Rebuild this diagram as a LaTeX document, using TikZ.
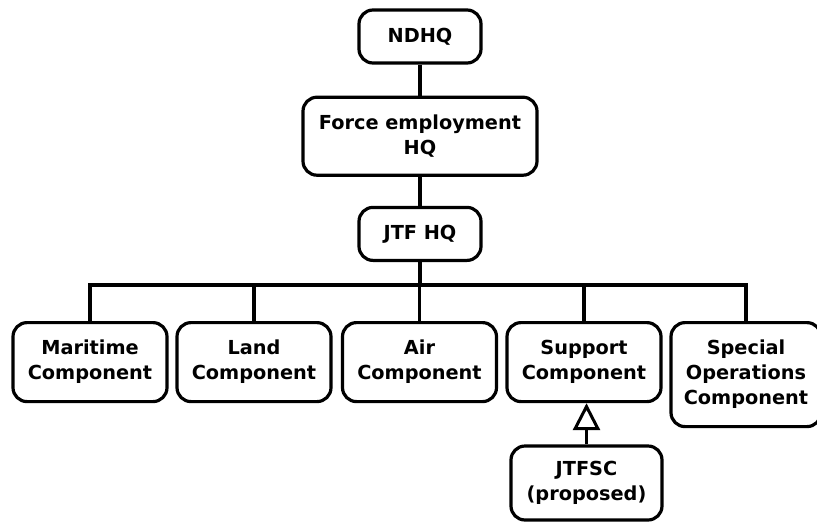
\documentclass[tikz,border=0pt]{standalone}
\usepackage{fontspec}
\setmainfont{DejaVu Sans}
\usetikzlibrary{positioning,arrows.meta}

\begin{document}
\begin{tikzpicture}
                [x=1pt,y=1pt,node distance=31pt,
                unit/.style={rectangle,rounded corners=14pt,draw,line width=3.2pt,
                    align=center,font=\fontsize{19.3}{25}\selectfont\bfseries,
                    inner sep=2pt},
                hq/.style={unit,minimum width=122pt,minimum height=53pt},
                comp/.style={unit,minimum width=154pt,minimum height=79pt,anchor=north},
                link/.style={line width=3.2pt}]
                \useasboundingbox (0,0) rectangle (817,-523);
                \node[hq] (ndhq) at (420,-36.5){NDHQ};
                \node[hq,minimum width=234pt,minimum height=78pt] (fe)[below=of ndhq]{Force employment\\HQ};
                \node[hq] (jtf)[below=29pt of fe]{JTF HQ};
                % component row, tops lined up
                \node[comp] (mar) at (90,-321){Maritime\\Component};
                \node[comp] (land) at (254,-321){Land\\Component};
                \node[comp] (air) at (419.5,-321){Air\\Component};
                \node[comp] (sup) at (584,-321){Support\\Component};
                \node[comp,minimum width=150pt,minimum height=104pt] (spec) at (746,-321){Special\\Operations\\Component};
                \node[unit,minimum width=151pt,minimum height=74pt] (jtfsc) at (586.5,-483){JTFSC\\(proposed)};
                \draw[link] (ndhq) -- (fe);
                \draw[link] (fe) -- (jtf);
                \draw[link] (jtf.south) -- ++(0,-23) coordinate (bus);
                \foreach \c in {mar,land,air,sup,spec}
                    \draw[link] (\c.north) |- (bus);
                \draw[link,-{Triangle[open,length=27pt,width=27pt,line width=3pt]}] (jtfsc.north) -- (jtfsc.north |- sup.south);
            \end{tikzpicture}
\end{document}
